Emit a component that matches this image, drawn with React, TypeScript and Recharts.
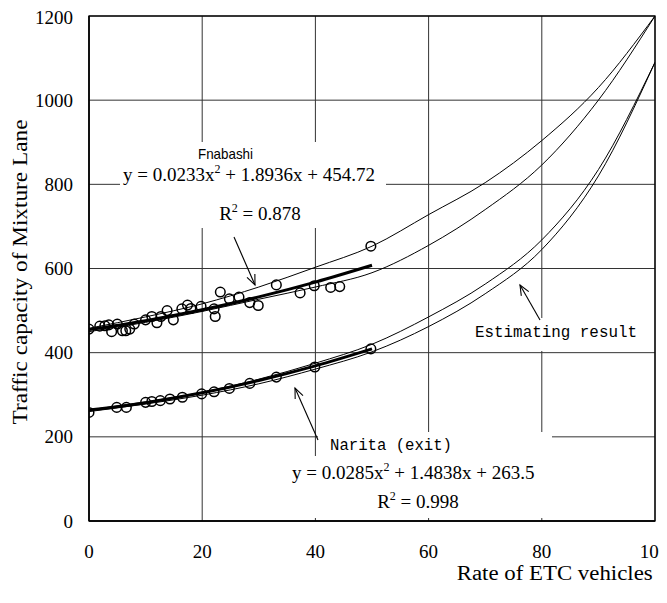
import { ComposedChart, Line, Scatter, XAxis, YAxis, CartesianGrid } from "recharts";

// Funabashi observations
const fnX = [0, 1.9, 2.8, 3.5, 4.0, 5.0, 5.9, 6.5, 7.2, 8.0, 10.0, 11.1, 12.0, 12.7, 13.8, 14.9, 16.4, 17.4, 18.0, 19.8, 22.1, 22.3, 23.2, 24.8, 26.5, 28.4, 29.9, 33.1, 37.3, 39.8, 42.7, 44.3, 49.8];
const fnY = [456, 463, 464, 466, 450, 468, 452, 452, 456, 468, 478, 486, 471, 486, 500, 478, 504, 513, 505, 510, 504, 486, 544, 528, 532, 519, 512, 561, 542, 559, 555, 557, 653];
// Narita (exit) observations
const nrX = [0, 4.9, 6.6, 10.0, 11.1, 12.6, 14.3, 16.5, 19.9, 22.1, 24.8, 28.4, 33.1, 39.9, 49.8];
const nrY = [258, 270, 270, 282, 284, 286, 290, 294, 302, 307, 315, 327, 342, 366, 409];

// fitted trend lines (thick)
const trendX = [0, 10, 20, 30, 40, 50];
const fnTrend = [454.7, 476.0, 501.9, 532.5, 567.7, 607.6];
const nrTrend = [263.5, 281.2, 304.6, 333.7, 368.5, 408.9];

// estimating result curves (thin)
const estX = [0, 10, 20, 30, 40, 50, 60, 70, 80, 90, 100];
const fnUpper = [458, 485, 516, 556, 603, 653, 728, 804, 904, 1030, 1200];
const fnLower = [450, 472, 498, 527, 556, 590, 655, 740, 846, 1000, 1200];
const nrUpper = [264, 283, 306, 337, 375, 420, 485, 563, 668, 835, 1090];
const nrLower = [260, 278, 299, 326, 361, 402, 462, 540, 645, 820, 1090];

const xTicks = [0, 20, 40, 60, 80, 100];
const yTicks = [0, 200, 400, 600, 800, 1000, 1200];

const zip = (xs: number[], ys: number[]) => xs.map((x, i) => ({ x, y: ys[i] }));

const W = 659;
const H = 587;
const serif = "'Liberation Serif', 'Times New Roman', serif";
const mono = "'Liberation Mono', monospace";

function XTick({ x, y, payload }: any) {
  return (
    <text x={x} y={y + 37} textAnchor="middle" fontFamily={serif} fontSize={19} fill="#000">
      {payload.value}
    </text>
  );
}

function YTick({ x, y, payload }: any) {
  return (
    <text x={x - 16} y={y + 6.5} textAnchor="end" fontFamily={serif} fontSize={19} fill="#000">
      {payload.value}
    </text>
  );
}

const ring = ({ cx, cy }: any) => <circle cx={cx} cy={cy} r={4.8} fill="none" stroke="#000" strokeWidth={1.5} />;

function Arrow({ x1, y1, x2, y2 }: { x1: number; y1: number; x2: number; y2: number }) {
  const a = Math.atan2(y2 - y1, x2 - x1);
  const len = 11;
  const h1 = [x2 - len * Math.cos(a - 0.4), y2 - len * Math.sin(a - 0.4)];
  const h2 = [x2 - len * Math.cos(a + 0.4), y2 - len * Math.sin(a + 0.4)];
  return (
    <g stroke="#000" strokeWidth={1.1} fill="none">
      <line x1={x1} y1={y1} x2={x2} y2={y2} />
      <polyline points={`${h1[0]},${h1[1]} ${x2},${y2} ${h2[0]},${h2[1]}`} />
    </g>
  );
}

function Equation({ x, y, a, b, c }: { x: number; y: number; a: string; b: string; c: string }) {
  return (
    <text x={x} y={y} fontFamily={serif} fontSize={19} fill="#000">
      {`y = ${a}x`}
      <tspan fontSize={12} dy={-8}>2</tspan>
      <tspan dy={8}>{` + ${b}x + ${c}`}</tspan>
    </text>
  );
}

function R2({ x, y, v }: { x: number; y: number; v: string }) {
  return (
    <text x={x} y={y} fontFamily={serif} fontSize={19} fill="#000" textAnchor="middle">
      R<tspan fontSize={12} dy={-8}>2</tspan>
      <tspan dy={8}>{` = ${v}`}</tspan>
    </text>
  );
}

export default function App() {
  return (
    <div style={{ position: "relative", width: W, height: H }}>
      <ComposedChart width={W} height={H} margin={{ top: 8, right: 12, bottom: 44, left: 0 }} style={{ overflow: "visible" }}>
        <CartesianGrid stroke="#333" strokeWidth={1} />
        <XAxis
          dataKey="x"
          type="number"
          domain={[0, 100]}
          ticks={xTicks.slice(0, -1)}
          height={30}
          tickSize={0}
          tickMargin={0}
          tick={<XTick />}
          axisLine={{ stroke: "#000", strokeWidth: 1.3 }}
          tickLine={false}
          allowDataOverflow
        />
        <YAxis
          type="number"
          domain={[0, 1200]}
          ticks={yTicks}
          width={81}
          tickSize={0}
          tickMargin={0}
          tick={<YTick />}
          axisLine={{ stroke: "#000", strokeWidth: 1.3 }}
          tickLine={false}
          allowDataOverflow
        />
        <Line data={zip(estX, fnUpper)} dataKey="y" type="monotone" stroke="#000" strokeWidth={1} dot={false} activeDot={false} isAnimationActive={false} />
        <Line data={zip(estX, fnLower)} dataKey="y" type="monotone" stroke="#000" strokeWidth={1} dot={false} activeDot={false} isAnimationActive={false} />
        <Line data={zip(estX, nrUpper)} dataKey="y" type="monotone" stroke="#000" strokeWidth={1} dot={false} activeDot={false} isAnimationActive={false} />
        <Line data={zip(estX, nrLower)} dataKey="y" type="monotone" stroke="#000" strokeWidth={1} dot={false} activeDot={false} isAnimationActive={false} />
        <Line data={zip(trendX, fnTrend)} dataKey="y" type="monotone" stroke="#000" strokeWidth={3} dot={false} activeDot={false} isAnimationActive={false} />
        <Line data={zip(trendX, nrTrend)} dataKey="y" type="monotone" stroke="#000" strokeWidth={3} dot={false} activeDot={false} isAnimationActive={false} />
        <Scatter data={zip(fnX, fnY)} dataKey="y" shape={ring} isAnimationActive={false} />
        <Scatter data={zip(nrX, nrY)} dataKey="y" shape={ring} isAnimationActive={false} />
      </ComposedChart>
      <svg width={W} height={H} style={{ position: "absolute", left: 0, top: 0, pointerEvents: "none", overflow: "visible" }}>
        {/* frame top/right, x = 100 gridline */}
        <rect x={81} y={8} width={566} height={505} fill="none" stroke="#000" strokeWidth={1.3} />
        {/* the last x label sits on the page edge */}
        <text x={646} y={550} textAnchor="middle" fontFamily={serif} fontSize={19} fill="#000">
          {xTicks[xTicks.length - 1]}
        </text>
        {/* label boxes hide the grid behind them */}
        <rect x={112} y={134} width={266} height={86} fill="#fff" />
        <rect x={310} y={424} width={234} height={24} fill="#fff" />
        <rect x={280} y={448} width={264} height={62} fill="#fff" />
        <rect x={457} y={310} width={180} height={33} fill="#fff" />

        <text x={190} y={150.5} fontFamily="'Liberation Sans', sans-serif" fontSize={15} textLength={55} lengthAdjust="spacingAndGlyphs">Fnabashi</text>
        <Equation x={115} y={172.5} a="0.0233" b="1.8936" c="454.72" />
        <R2 x={252} y={212} v="0.878" />

        <text x={322} y={442} fontFamily={mono} fontSize={16} textLength={122} lengthAdjust="spacingAndGlyphs">Narita (exit)</text>
        <Equation x={284} y={471} a="0.0285" b="1.4838" c="263.5" />
        <R2 x={410} y={500} v="0.998" />

        <text x={467} y={328.7} fontFamily={mono} fontSize={16} textLength={162} lengthAdjust="spacingAndGlyphs">Estimating result</text>

        <Arrow x1={226} y1={229} x2={247} y2={277} />
        <Arrow x1={310} y1={432} x2={287} y2={380} />
        <Arrow x1={532} y1={312} x2={512} y2={277} />

        <text
          transform="translate(19,264) rotate(-90)"
          textAnchor="middle"
          fontFamily={serif}
          fontSize={20}
          textLength={305}
          lengthAdjust="spacingAndGlyphs"
        >
          Traffic capacity of Mixture Lane
        </text>
        <text x={448.7} y={572} fontFamily={serif} fontSize={20} textLength={196} lengthAdjust="spacingAndGlyphs">
          Rate of  ETC vehicles
        </text>
      </svg>
    </div>
  );
}
